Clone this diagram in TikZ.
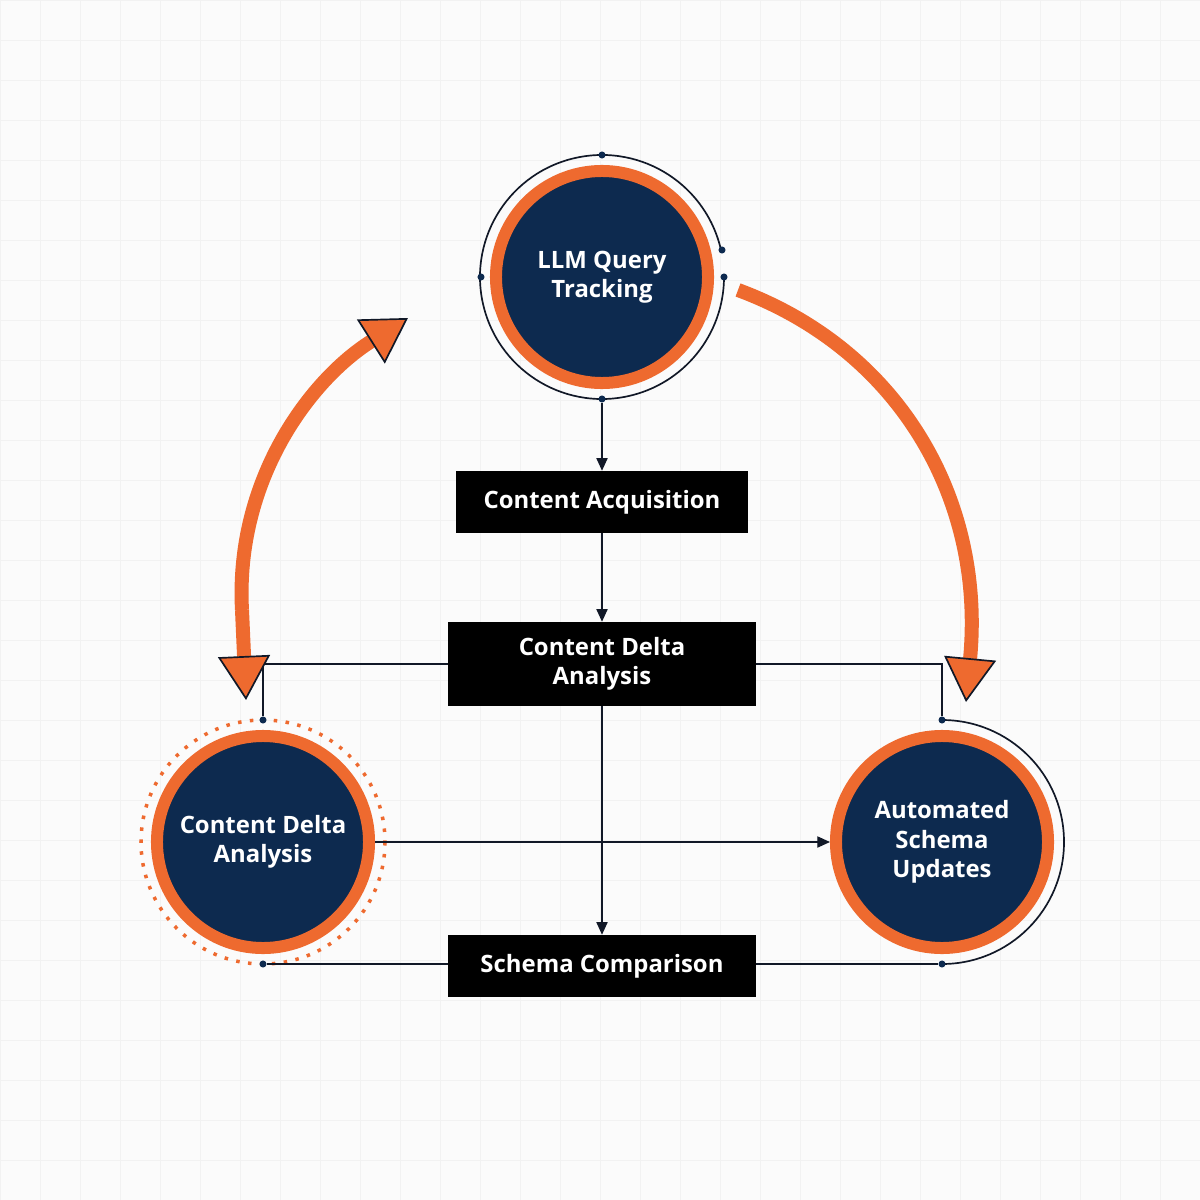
\documentclass[tikz,border=0pt]{standalone}
\usepackage{fontspec}
\setmainfont{Open Sans}
\usetikzlibrary{arrows.meta}
\definecolor{navy}{HTML}{0D2A4F}
\definecolor{org}{HTML}{EE6A2F}
\definecolor{dk}{HTML}{111827}
\tikzset{
 circ/.style={circle,fill=navy,draw=org,line width=0.3cm,minimum size=5.3cm,text=white,font=\fontsize{17}{21}\selectfont\bfseries,align=center},
 box/.style={fill=black,text=white,font=\fontsize{17}{21}\selectfont\bfseries,align=center,inner sep=0pt},
 ln/.style={draw=dk,line width=0.9pt},
 arr/.style={ln,-{Triangle[length=9pt,width=8pt]}},
 dot/.style={circle,fill=navy,inner sep=0pt,minimum size=5pt},
 big/.style={draw=org,line width=0.35cm},
 bigtip/.style={-{Triangle[length=1.1cm,width=1.3cm,fill=org,color=dk,line width=1.2pt]}},
}
\begin{document}
\begin{tikzpicture}[x=0.025cm,y=-0.025cm]
\useasboundingbox (0,0) rectangle (1200,1200);
\fill[white!97!gray] (0,0) rectangle (1200,1200);
\foreach \i in {0,40,...,1200}{
 \draw[gray!10,line width=0.4pt] (\i,0) -- (\i,1200);
 \draw[gray!10,line width=0.4pt] (0,\i) -- (1200,\i);}
% circles
\node[circ] (llm) at (602,277) {LLM Query\\Tracking};
\node[circ] (cda) at (263,842) {Content Delta\\Analysis};
\node[circ] (asu) at (942,842) {Automated\\Schema\\Updates};
% rings
\draw[ln,line width=1.2pt] (602,277) ++(-12:122) arc[start angle=-12,end angle=-360,radius=122];
\draw[org,line width=2.5pt,dash pattern=on 2.5pt off 6pt] (263,842) circle[radius=122];
\draw[ln,line width=1.2pt] (942,842) ++(90:122) arc[start angle=90,end angle=-90,radius=122];
\node[dot] (t1) at (602,155) {};
\node[dot] (t2) at (481,277) {};
\node[dot] (t3) at (602,399) {};
\node[dot] (t4) at (722,250) {};
\node[dot] (t5) at (724,277) {};
\node[dot] (l1) at (263,720) {};
\node[dot] (l2) at (263,964) {};
\node[dot] (r1) at (942,720) {};
\node[dot] (r2) at (942,964) {};
% boxes
\node[box,minimum width=7.3cm,minimum height=1.55cm] (ca) at (602,502) {Content Acquisition};
\node[box,minimum width=7.7cm,minimum height=2.1cm] (cd) at (602,664) {Content Delta\\Analysis};
\node[box,minimum width=7.7cm,minimum height=1.55cm] (sc) at (602,966) {Schema Comparison};
% connectors
\draw[arr] (t3) -- (ca);
\draw[arr] (ca) -- (cd);
\draw[arr] (cd) -- (sc);
\draw[ln] (cd.west) -| (l1);
\draw[ln] (cd.east) -| (r1);
\draw[arr] (cda.east) -- (asu.west);
\draw[ln] (l2) -- (l2 -| sc.west);
\draw[ln] (r2 -| sc.east) -- (r2);
% big orange arrows
\coordinate (a1) at (246,700);
\coordinate (a2) at (408,318);
\coordinate (b1) at (738,290);
\coordinate (b2) at (966,702);
\draw[big,bigtip] (242,610) .. controls (235,480) and (310,380) .. (a2);
\draw[big,bigtip] (242,610) -- (a1);
\draw[big,bigtip] (b1) .. controls (900,350) and (985,500) .. (b2);
\end{tikzpicture}
\end{document}
